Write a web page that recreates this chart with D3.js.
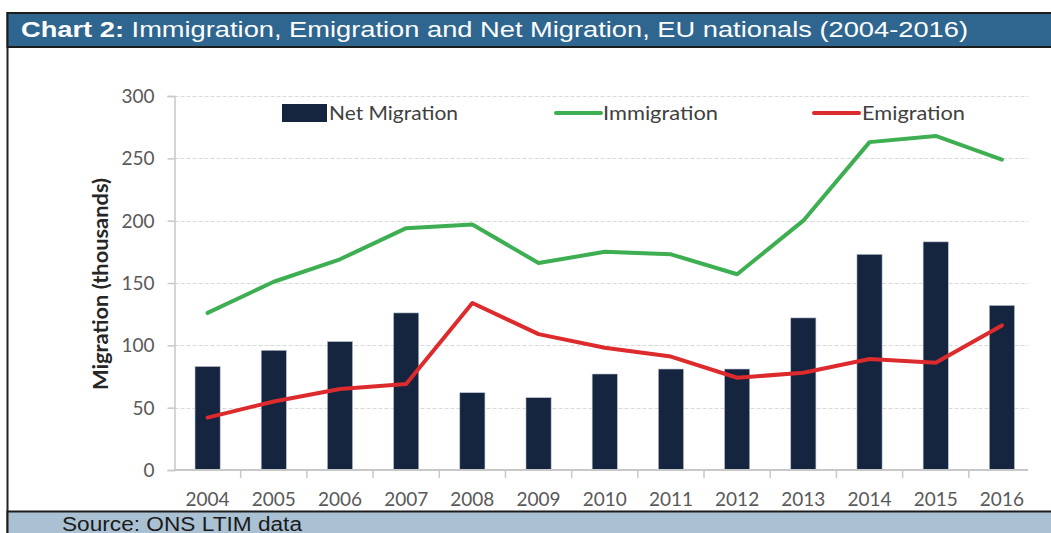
<!DOCTYPE html>
<html>
<head>
<meta charset="utf-8">
<script src="https://cdnjs.cloudflare.com/ajax/libs/d3/7.8.5/d3.min.js"></script>
<style>
  html, body { margin: 0; padding: 0; background: #ffffff; }
  svg { display: block; }
</style>
</head>
<body>
<svg id="chart" width="1051" height="533"></svg>
<script>
// Data (thousands), EU nationals, 2004-2016
const years = ["2004","2005","2006","2007","2008","2009","2010","2011","2012","2013","2014","2015","2016"];
const netMigration = [83, 96, 103, 126, 62, 58, 77, 81, 81, 122, 173, 183, 132];
const immigration  = [126, 151, 169, 194, 197, 166, 175, 173, 157, 200, 263, 268, 249];
const emigration   = [42, 55, 65, 69, 134, 109, 98, 91, 74, 78, 89, 86, 116];
const yTicks = [0, 50, 100, 150, 200, 250, 300];

const titleBold = "Chart 2:";
const titleRest = " Immigration, Emigration and Net Migration, EU nationals (2004-2016)";
const sourceText = "Source: ONS LTIM data";
const yAxisTitle = "Migration (thousands)";

const colNet = "#15243f";
const colImm = "#3daf52";
const colEmi = "#dd2a2c";
const axisCol = "#c8c8c8";
const tickTextCol = "#595959";
const labelFont = "Lato, 'Open Sans', sans-serif";
const headFont = "'Liberation Sans', Arial, sans-serif";

const svg = d3.select("#chart");

// Plot area
const plot = { left: 174.5, right: 1035, top: 96, bottom: 470, axisEnd: 1028 };

const x = d3.scaleBand().domain(years).range([plot.left, plot.right]).paddingInner(0.62).paddingOuter(0.31);
const xc = d3.scaleBand().domain(years).range([plot.left, plot.right]).padding(0);
const y = d3.scaleLinear().domain([0, 300]).range([plot.bottom, plot.top]);

// Frame: left border of the panel
svg.append("line").attr("x1", 7.5).attr("x2", 7.5).attr("y1", 12).attr("y2", 533)
  .attr("stroke", "#222").attr("stroke-width", 2);

// Title bar
svg.append("rect").attr("x", 7.5).attr("y", 13).attr("width", 1060).attr("height", 34)
  .attr("fill", "#2f6690").attr("stroke", "#1c1c1c").attr("stroke-width", 2);
const title = svg.append("text").attr("x", 21).attr("y", 36.5)
  .attr("font-family", headFont).attr("font-size", 22).attr("fill", "#ffffff")
  .attr("textLength", 947).attr("lengthAdjust", "spacingAndGlyphs");
title.append("tspan").attr("font-weight", "bold").text(titleBold);
title.append("tspan").text(titleRest);

// Source bar
svg.append("rect").attr("x", 7.5).attr("y", 511.5).attr("width", 1060).attr("height", 30)
  .attr("fill", "#aac1d3").attr("stroke", "#1c1c1c").attr("stroke-width", 2);
svg.append("text").attr("x", 62).attr("y", 530.5)
  .attr("font-family", headFont).attr("font-size", 20).attr("fill", "#1a1a1a")
  .attr("textLength", 240).attr("lengthAdjust", "spacingAndGlyphs")
  .text(sourceText);

// Gridlines (dashed)
svg.append("g").selectAll("line").data(yTicks.filter(d => d > 0)).join("line")
  .attr("x1", plot.left).attr("x2", plot.axisEnd)
  .attr("y1", d => Math.round(y(d)) + 0.5).attr("y2", d => Math.round(y(d)) + 0.5)
  .attr("stroke", "#d9d9d9").attr("stroke-width", 1).attr("stroke-dasharray", "4,2");

// Y axis
const yAxis = d3.axisLeft(y).tickValues(yTicks).tickSize(7).tickPadding(13);
const gy = svg.append("g").attr("transform", `translate(${plot.left},0)`).call(yAxis);
gy.select(".domain").attr("stroke", axisCol).attr("stroke-width", 1.5);
gy.selectAll(".tick line").attr("stroke", axisCol).attr("stroke-width", 1.5);
gy.selectAll(".tick text").attr("font-family", labelFont).attr("font-size", 19)
  .attr("fill", tickTextCol).attr("dy", "0.34em");

// Y axis title
svg.append("text")
  .attr("transform", `translate(108,284) rotate(-90)`)
  .attr("text-anchor", "middle").attr("font-family", labelFont).attr("font-weight", "bold")
  .attr("font-size", 20).attr("fill", "#262626")
  .attr("textLength", 212).attr("lengthAdjust", "spacingAndGlyphs")
  .text(yAxisTitle);

// Bars
svg.append("g").selectAll("rect").data(years).join("rect")
  .attr("x", d => x(d)).attr("width", x.bandwidth())
  .attr("y", (d, i) => y(netMigration[i]))
  .attr("height", (d, i) => y(0) - y(netMigration[i]))
  .attr("fill", colNet).attr("stroke", "#b8bfcc").attr("stroke-width", 0.6);

// X axis: baseline, boundary ticks, labels
svg.append("line").attr("x1", plot.left).attr("x2", plot.axisEnd)
  .attr("y1", y(0)).attr("y2", y(0)).attr("stroke", axisCol).attr("stroke-width", 2);
svg.append("g").selectAll("line").data(years.slice(1)).join("line")
  .attr("x1", d => xc(d)).attr("x2", d => xc(d))
  .attr("y1", y(0)).attr("y2", y(0) + 8)
  .attr("stroke", axisCol).attr("stroke-width", 1.5);
svg.append("g").selectAll("text").data(years).join("text")
  .attr("x", d => xc(d) + xc.bandwidth() / 2).attr("y", 506)
  .attr("text-anchor", "middle").attr("font-family", labelFont).attr("font-size", 19)
  .attr("fill", tickTextCol).text(d => d);

// Lines
const cx = d => xc(d) + xc.bandwidth() / 2;
const lineGen = vals => d3.line().x(d => cx(d)).y((d, i) => y(vals[i]))(years);
svg.append("path").attr("d", lineGen(immigration)).attr("fill", "none")
  .attr("stroke", colImm).attr("stroke-width", 4).attr("stroke-linejoin", "round").attr("stroke-linecap", "round");
svg.append("path").attr("d", lineGen(emigration)).attr("fill", "none")
  .attr("stroke", colEmi).attr("stroke-width", 4).attr("stroke-linejoin", "round").attr("stroke-linecap", "round");

// Legend
const legY = 113;
const legend = svg.append("g").attr("font-family", labelFont).attr("font-size", 20).attr("fill", "#404040");
legend.append("rect").attr("x", 282).attr("y", legY - 9).attr("width", 45).attr("height", 18).attr("fill", colNet);
legend.append("text").attr("x", 329).attr("y", legY).attr("dy", "0.35em")
  .attr("textLength", 129).attr("lengthAdjust", "spacingAndGlyphs").text("Net Migration");
legend.append("line").attr("x1", 556).attr("x2", 601).attr("y1", legY).attr("y2", legY)
  .attr("stroke", colImm).attr("stroke-width", 4).attr("stroke-linecap", "round");
legend.append("text").attr("x", 603).attr("y", legY).attr("dy", "0.35em")
  .attr("textLength", 115).attr("lengthAdjust", "spacingAndGlyphs").text("Immigration");
legend.append("line").attr("x1", 814).attr("x2", 859).attr("y1", legY).attr("y2", legY)
  .attr("stroke", colEmi).attr("stroke-width", 4).attr("stroke-linecap", "round");
legend.append("text").attr("x", 862).attr("y", legY).attr("dy", "0.35em")
  .attr("textLength", 103).attr("lengthAdjust", "spacingAndGlyphs").text("Emigration");
</script>
</body>
</html>
